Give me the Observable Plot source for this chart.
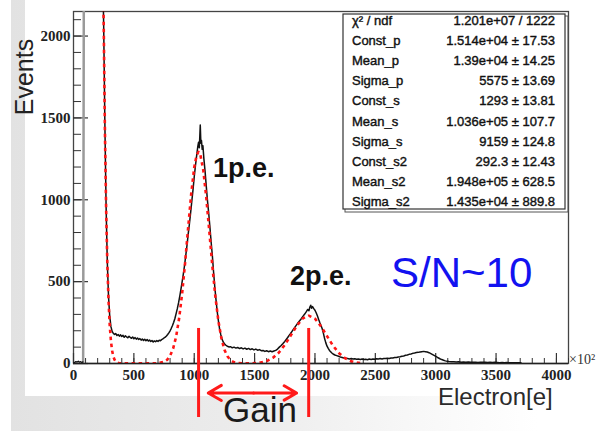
<!DOCTYPE html>
<html><head><meta charset="utf-8">
<script src="https://cdn.jsdelivr.net/npm/d3@7"></script>
<script src="https://cdn.jsdelivr.net/npm/@observablehq/plot@0.6"></script>
<style>
body{margin:0;background:#fff;}
#wrap{position:relative;width:596px;height:431px;overflow:hidden;background:#fff;}
#wrap > *{position:absolute;left:0;top:0;}
</style></head>
<body>
<div id="wrap">
  <div style="left:11px;width:585px;height:431px;background:linear-gradient(to right,#e2e2e2,#ececec 40%,#f8f8f8 70%,#fff 90%)"></div>
  <div style="left:25px;width:571px;height:396px;background:#fff"></div>
  <div id="chart"></div>
  <svg id="ann" width="596" height="431" style="overflow:visible"></svg>
</div>
<script>
// ---- data (x in units of 10^2 electrons, y = events) ----
const xTicks = [0, 500, 1000, 1500, 2000, 2500, 3000, 3500, 4000];
const yTicks = [0, 500, 1000, 1500, 2000];

const lowBins = [[0,3],[10,7],[20,12],[30,9],[40,14],[50,8],[60,11],[70,6],[78,10]];
const pedestalEdge = [[80,10],[86,2500]];

const histogram = [
[240,2500],[250,2060],[260,1460],[270,960],[280,620],[290,410],[300,290],[310,225],[320,196],[330,184],
[340,178],[350,183],[360,171],[370,177],[380,167],[390,175],[400,165],[410,172],[420,160],[430,169],
[440,162],[450,157],[460,166],[470,159],[480,154],[490,162],[500,151],[510,158],[520,149],[530,156],
[540,147],[550,152],[560,143],[570,150],[580,141],[590,148],[600,139],[610,146],[620,137],[630,143],
[640,135],[650,140],[660,131],[670,138],[680,133],[690,140],[700,135],[710,142],[720,139],[730,146],
[740,150],[750,156],[760,161],[770,168],[780,177],[790,187],[800,200],[810,215],[820,232],[830,252],
[840,275],[850,305],[860,335],[870,370],[880,410],[890,455],[900,500],[910,548],[920,600],[930,660],
[940,722],[950,790],[960,852],[970,920],[980,992],[990,1062],[1000,1140],[1010,1208],[1020,1270],[1030,1328],
[1036,1352],[1042,1318],[1046,1385],[1050,1456],[1055,1345],[1060,1362],[1066,1308],[1072,1330],[1080,1250],[1090,1172],
[1100,1080],[1110,992],[1120,918],[1130,832],[1140,742],[1150,660],[1160,560],[1170,470],[1180,392],[1190,320],
[1200,262],[1210,212],[1220,176],[1230,150],[1240,131],[1250,121],[1260,113],[1270,108],[1280,104],[1290,101],
[1300,103],[1315,96],[1330,100],[1345,94],[1360,98],[1375,91],[1390,96],[1405,89],[1420,94],[1435,87],
[1450,92],[1465,85],[1480,90],[1495,83],[1510,88],[1525,81],[1540,85],[1555,78],[1570,80],[1585,74],
[1600,78],[1615,72],[1630,76],[1645,72],[1660,76],[1675,80],[1690,88],[1705,100],[1720,110],[1735,122],
[1750,135],[1765,150],[1780,165],[1795,180],[1810,196],[1825,212],[1840,228],[1855,244],[1870,258],[1885,272],
[1900,288],[1915,302],[1930,318],[1940,330],[1950,322],[1958,345],[1965,356],[1972,338],[1980,348],[1990,335],
[2000,325],[2010,310],[2020,292],[2030,270],[2040,250],[2050,232],[2060,212],[2070,184],[2080,152],[2090,126],
[2100,106],[2110,92],[2120,80],[2130,72],[2140,64],[2150,58],[2165,52],[2180,48],[2195,44],[2210,40],
[2225,37],[2240,34],[2255,32],[2270,30],[2285,28],[2300,30],[2315,27],[2330,29],[2345,26],[2360,28],
[2375,25],[2390,27],[2405,24],[2420,26],[2435,23],[2450,27],[2465,25],[2480,28],[2495,26],[2510,29],
[2525,27],[2540,30],[2555,28],[2570,31],[2585,30],[2600,32],[2615,31],[2630,34],[2645,34],[2660,37],
[2675,37],[2690,40],[2705,41],[2720,44],[2735,46],[2750,50],[2765,52],[2780,56],[2795,58],[2810,62],
[2825,64],[2840,67],[2855,68],[2870,70],[2885,72],[2900,74],[2915,72],[2930,70],[2945,66],[2960,60],
[2975,54],[2990,48],[3005,42],[3020,35],[3035,29],[3050,24],[3065,20],[3080,16],[3095,14],[3110,12],
[3130,10],[3150,11],[3170,9],[3190,10],[3210,8],[3230,9],[3250,8],[3270,9],[3290,7],[3310,8],
[3330,8],[3350,6],[3370,8],[3390,7],[3410,8],[3430,6],[3450,7],[3470,6],[3490,7],[3510,6],
[3530,5],[3550,6],[3570,5],[3590,6],[3610,5],[3630,5],[3650,4],[3670,5],[3690,4],[3705,4],[3712,0]
];

const fitCurve = [
[240,2600],[250,2086],[260,1437],[270,957],[280,618],[290,387],[300,234],[310,137],[320,78],[330,43],
[340,23],[350,12],[365,4],[380,1.3],[450,0.5],[550,0.5],[650,0.8],[700,1.5],[750,10],[775,22],
[800,47],[825,91],[850,164],[875,276],[900,429],[925,620],[950,832],[975,1036],[1000,1197],[1020,1273],
[1036,1293],[1050,1278],[1075,1181],[1100,1013],[1125,806],[1150,596],[1175,409],[1200,260],[1225,154],[1250,84],
[1275,44],[1300,21],[1325,9],[1350,4],[1400,1],[1450,1],[1500,2],[1550,6],[1600,15],[1650,34],
[1700,66],[1750,113],[1800,172],[1850,231],[1900,276],[1948,292],[2000,274],[2050,227],[2100,167],[2150,108],
[2200,63],[2250,32],[2300,14],[2350,6],[2380,3]
];

const gainPeaks = [1036, 1948];

const statNames = ["χ² / ndf","Const_p","Mean_p","Sigma_p","Const_s","Mean_s","Sigma_s","Const_s2","Mean_s2","Sigma_s2"];
const statValues = ["1.201e+07 / 1222","1.514e+04 ± 17.53","1.39e+04 ± 14.25","5575 ± 13.69","1293 ± 13.81",
  "1.036e+05 ± 107.7","9159 ± 124.8","292.3 ± 12.43","1.948e+05 ± 628.5","1.435e+04 ± 889.8"];

// ---- layout ----
const W = 596, H = 431, mL = 73, mR = 28, mT = 11, mB = 68;
const xMax = 4100, yMax = 2150;
const pxX = (W - mL - mR) / xMax, pxY = (H - mT - mB) / yMax;
const minorX = d3.range(0, xMax + 1, 100), minorY = d3.range(0, yMax + 1, 100);
const tickFont = {fontFamily: "Liberation Serif", fontSize: 15, fontWeight: "bold", fill: "#222"};

const mid = (gainPeaks[0] + gainPeaks[1]) / 2;
const arrows = [
  {x1: mid, x2: gainPeaks[0] + 80},
  {x1: mid, x2: gainPeaks[1] - 100}
];

const chart = Plot.plot({
  width: W, height: H, marginLeft: mL, marginRight: mR, marginTop: mT, marginBottom: mB,
  style: {background: "transparent", overflow: "visible"},
  x: {domain: [0, xMax]}, y: {domain: [0, yMax]},
  marks: [
    Plot.frame({stroke: "#444", strokeWidth: 1.3}),
    Plot.ruleX(minorX, {x: d => d, y1: 0, y2: 5 / pxY, stroke: "#333", strokeWidth: 1}),
    Plot.ruleX(xTicks, {x: d => d, y1: 0, y2: 10 / pxY, stroke: "#333", strokeWidth: 1.2}),
    Plot.ruleY(minorY, {y: d => d, x1: 0, x2: 8 / pxX, stroke: "#333", strokeWidth: 1}),
    Plot.ruleY(yTicks, {y: d => d, x1: 0, x2: 15 / pxX, stroke: "#333", strokeWidth: 1.2}),
    Plot.axisX({ticks: xTicks, tickSize: 0, tickPadding: 6, tickFormat: d => `${d}`, label: null, ...tickFont}),
    Plot.axisY({ticks: yTicks, tickSize: 0, tickPadding: 3, tickFormat: d => `${d}`, label: null, ...tickFont}),
    Plot.line(pedestalEdge, {x: d => d[0], y: d => d[1], stroke: "#9a9a9a", strokeWidth: 2.5, clip: true}),
    Plot.line(lowBins, {x: d => d[0], y: d => d[1], stroke: "#111", strokeWidth: 1.3, clip: true}),
    Plot.line(histogram, {x: d => d[0], y: d => d[1], stroke: "#111", strokeWidth: 1.5, clip: true}),
    Plot.line(fitCurve, {x: d => d[0], y: d => d[1], stroke: "#ff1414", strokeWidth: 2.6, strokeDasharray: "3.5,3.5", strokeLinecap: "butt", clip: true}),
    Plot.ruleY([0], {stroke: "#222", strokeWidth: 1.5}),
    Plot.ruleX(gainPeaks, {x: d => d, y1: -330, y2: 214, stroke: "#ff1a1a", strokeWidth: 3}),
    Plot.arrow(arrows, {x1: "x1", x2: "x2", y1: () => -180, y2: () => -180, stroke: "#ff1a1a", strokeWidth: 3, headLength: 12, bend: 0})
  ]
});
document.getElementById("chart").appendChild(chart);

// ---- annotations (text) ----
const ann = d3.select("#ann");
function txt(x, y, s, opts = {}) {
  return ann.append("text").attr("x", x).attr("y", y)
    .attr("font-family", opts.family || "Liberation Sans")
    .attr("font-size", opts.size || 14)
    .attr("font-weight", opts.weight || "normal")
    .attr("fill", opts.fill || "#111")
    .attr("text-anchor", opts.anchor || "start")
    .text(s);
}
// Events
ann.append("text").attr("transform", "translate(33,77) rotate(-90)")
  .attr("text-anchor", "middle").attr("font-family", "Liberation Sans").attr("font-size", 25).attr("fill", "#222").text("Events");
txt(213, 177, "1p.e.", {size: 27, weight: "bold"});
txt(290, 285, "2p.e.", {size: 27, weight: "bold"});
txt(391, 287, "S/N~10", {size: 42, fill: "#1212f0"});
txt(260, 422, "Gain", {size: 35, anchor: "middle", fill: "#1a1a1a"});
txt(438, 405, "Electron[e]", {size: 24, fill: "#2a2a2a"});
txt(569, 364, "×10²", {size: 14, family: "Liberation Serif", fill: "#333"});

// stats box
ann.append("rect").attr("x", 345).attr("y", 16).attr("width", 223).attr("height", 196).attr("fill", "none").attr("stroke", "#555").attr("stroke-width", 1);
ann.append("rect").attr("x", 343).attr("y", 14).attr("width", 222).attr("height", 195)
  .attr("fill", "#fff").attr("stroke", "#333").attr("stroke-width", 1.2);
statNames.forEach((n, i) => {
  const y = 25 + i * 20.1;
  txt(352, y, n, {size: 13}).attr("stroke", "#111").attr("stroke-width", 0.4);
  txt(555, y, statValues[i], {size: 13, anchor: "end"}).attr("stroke", "#111").attr("stroke-width", 0.4);
});
</script>
</body></html>
